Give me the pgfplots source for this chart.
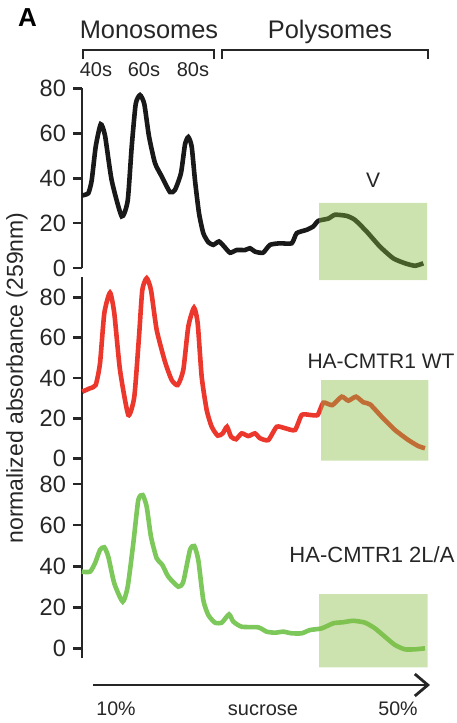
\documentclass[border=0pt]{standalone}
\usepackage{pgfplots}
\pgfplotsset{compat=1.18}
\usepackage{fontspec}
\setmainfont{Liberation Sans}
\usetikzlibrary{arrows.meta}

\definecolor{curveblack}{RGB}{25,25,25}
\definecolor{curvered}{RGB}{236,55,45}
\definecolor{curvegreen}{RGB}{125,200,90}
\definecolor{boxgreen}{RGB}{133,188,66}

\pgfplotsset{
  panel/.style={
    scale only axis,
    width=174pt,
    xmin=82, xmax=430,
    axis x line=none,
    axis y line*=left,
    ytick={0,20,40,60,80},
    tick align=outside,
    major tick length=4.5pt,
    every tick/.style={line width=1.4pt, black!85},
    axis line style={line width=1.4pt, black!85},
    yticklabel style={font=\fontsize{11.8}{13}\selectfont, text=black!85},
    /pgf/number format/assume math mode=true,
    clip=false,
    anchor=south west,
  },
  trace/.style={line width=2.3pt, smooth, tension=0.35},
  zone/.style={draw=none, fill=boxgreen, fill opacity=0.42},
}

\begin{document}
\begin{tikzpicture}
\begin{scope}[x=0.5pt, y=-0.5pt]
  \path[use as bounding box] (0,0) rectangle (456,723);
  % headings
  \node[anchor=base west, font=\bfseries\fontsize{13}{14}\selectfont] at (11,26.5) {A};
  \node[anchor=base, font=\fontsize{12.7}{14}\selectfont, text=black!85] at (149,38.5) {Monosomes};
  \node[anchor=base, font=\fontsize{12.7}{14}\selectfont, text=black!85] at (330,38.5) {Polysomes};
  \draw[line width=1pt, black!85] (83,58.5) -- (83,50) -- (214,50) -- (214,58.5);
  \draw[line width=1pt, black!85] (222,58.5) -- (222,50) -- (428,50) -- (428,58.5);
  \node[anchor=base, font=\fontsize{10}{12}\selectfont, text=black!85] at (96,76) {40s};
  \node[anchor=base, font=\fontsize{10}{12}\selectfont, text=black!85] at (144,76) {60s};
  \node[anchor=base, font=\fontsize{10}{12}\selectfont, text=black!85] at (193,76) {80s};
  % y label
  \node[rotate=90, anchor=center, font=\fontsize{11.5}{13}\selectfont, text=black!85] at (17,378) {normalized absorbance (259nm)};
  % panel labels
  \node[anchor=base, font=\fontsize{10.5}{12}\selectfont, text=black!85] at (373,187) {V};
  \node[anchor=base, font=\fontsize{10.5}{12}\selectfont, text=black!85] at (381,368) {HA-CMTR1 WT};
  \node[anchor=base, font=\fontsize{11}{12}\selectfont, text=black!85] at (372,562) {HA-CMTR1 2L/A};
  % sucrose gradient arrow
  \draw[line width=1.4pt, black!85, -{Straight Barb[length=6.5pt, width=11pt, line width=1.4pt]}] (93,685) -- (430,685);
  \node[anchor=base, font=\fontsize{9.8}{12}\selectfont, text=black!85] at (116,715) {10\%};
  \node[anchor=base, font=\fontsize{10}{12}\selectfont, text=black!85] at (263,715) {sucrose};
  \node[anchor=base, font=\fontsize{9.8}{12}\selectfont, text=black!85] at (398,715) {50\%};
\end{scope}

% panel 1: vector control
\begin{axis}[panel, at={(41pt,-134pt)}, height=89.85pt, ymin=0, ymax=80]
\addplot[trace, color=curveblack] coordinates {
(82,32.3) (88.3,33.3) (91.7,39) (95.7,54) (100.7,64) (105,59) (111.7,39)
(121.7,23) (127.7,30) (131.7,54) (135.7,73) (140,77) (144.3,73) (149,58.6)
(155,46.7) (161.7,40.8) (170,33.8) (175,34.8) (181,42.3) (185,55) (188.3,58.3)
(191.7,54) (195,39) (199,24.4) (203.3,15.5) (208.3,11.5) (213.3,10.3) (219,11.8)
(224.3,9.5) (230,6.8) (236.7,8) (245,8) (250,8.8) (255,7.3) (263,6.8)
(270,10.3) (280,11) (291.7,11) (296.7,15.5) (306.7,17) (313.3,18.5) (318.3,21)
(328.3,22) (335,23.7) (346.7,23.2) (355,21.4) (366.7,16.2) (380,9.5)
(393.3,4.3) (405,2.1) (415,1) (423.3,2.1)
};
\addplot[zone] coordinates {(319,-5.4) (427,-5.4) (427,29) (319,29) (319,-5.4)};
\end{axis}

% panel 2: HA-CMTR1 WT
\begin{axis}[panel, at={(41pt,-235pt)}, height=96.5pt, ymin=-5.83, ymax=90.31]
\addplot[trace, color=curvered] coordinates {
(82.3,33.2) (90,34.9) (95.7,36.5) (100,47.3) (104.3,72.2) (110,82.5) (114.3,72.2)
(120,44) (128.3,21.6) (134.3,30.7) (139,60.6) (142.3,83.8) (146.7,89.7) (151,83.8)
(156.7,63.9) (165,48.1) (171.7,39) (177.7,36.5) (183.3,44) (188.3,65.6) (194,75)
(197.7,67.2) (201.7,40.6) (206.7,24) (211.7,15.7) (217.7,11.3) (222.7,12.4)
(227,15.7) (231,10.8) (236,9.5) (241.7,12.4) (248.3,11.1) (255,12.4) (260,10)
(268.3,9.1) (276.7,15.7) (285,15) (295,14.1) (301.7,21.6) (310,21.6) (317.7,21.6)
(323.3,27.7) (332.3,26.5) (341.7,30.7) (348.3,28.7) (356,30.7) (363.3,27.9)
(370,26.9) (381.7,20.7) (395,14.1) (408.3,9.1) (418.3,6.1) (425,5)
};
\addplot[zone] coordinates {(321,-1.2) (428.3,-1.2) (428.3,39) (321,39) (321,-1.2)};
\end{axis}

% panel 3: HA-CMTR1 2L/A
\begin{axis}[panel, at={(41pt,-329.15pt)}, height=97.5pt, ymin=-4.87, ymax=90.07]
\addplot[trace, color=curvegreen] coordinates {
(81.7,37.3) (90,37.3) (95,41.4) (100,47.9) (104.3,49.2) (108.3,44.6) (114.3,31.6)
(122.7,22.7) (127.7,30) (133.3,51.1) (138.3,72.2) (142.7,74.6) (146.7,68.9)
(151,54.3) (156.7,43.8) (162.3,40.6) (168.3,34.9) (178.3,30) (183.3,32.4)
(190,47.9) (194.3,49.8) (198.3,43) (203.3,23.5) (208.3,16.2) (215,12.5)
(221.7,12.5) (229,16.5) (233.3,13) (241.7,10.5) (258.3,10.2) (266.7,8.1)
(275,7.6) (283.3,8.1) (291.7,7.3) (301.7,7.3) (310,8.9) (321.7,9.7) (333.3,12.2)
(343.3,12.7) (353.3,13.4) (365,12.5) (375,9.7) (385,5.6) (395,1.6) (405,-0.5)
(415,-0.5) (425,0)
};
\addplot[zone] coordinates {(319,-9.3) (427.7,-9.3) (427.7,26.4) (319,26.4) (319,-9.3)};
\end{axis}
\end{tikzpicture}
\end{document}
